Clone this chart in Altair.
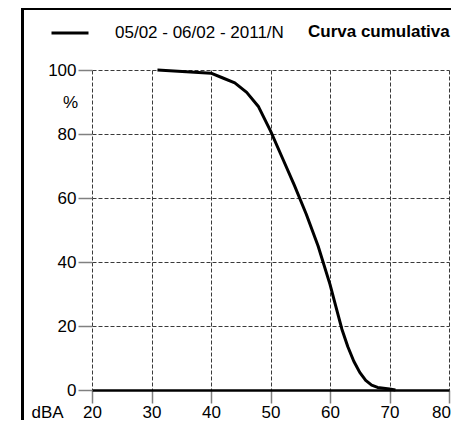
import altair as alt
import pandas as pd

# ---- data ----
dba = [31, 40, 42, 44, 46, 48, 50, 52, 54, 56, 58, 60, 61, 62, 63, 64, 65, 66, 67, 68, 70, 71]
pct = [100, 99, 97.5, 96, 93, 88.5, 81, 72.5, 64, 55, 45, 33, 26, 19, 13.5, 9, 5.5, 3, 1.5, 0.8, 0.3, 0]
series_name = "05/02 - 06/02 - 2011/N"
title_text = "Curva cumulativa"
x_ticks = [20, 30, 40, 50, 60, 70, 80]
y_ticks = [0, 20, 40, 60, 80, 100]

df = pd.DataFrame({"dBA": dba, "pct": pct, "serie": [series_name] * len(dba)})
one = pd.DataFrame({"label": [title_text]})

FONT = "Liberation Sans"
FS = 17

line = alt.Chart(df).mark_line(strokeWidth=3, strokeJoin="round").encode(
    x=alt.X(
        "dBA:Q",
        scale=alt.Scale(domain=[20, 80], nice=False, zero=False),
        axis=alt.Axis(
            values=x_ticks, title="dBA", titleX=-45, titleY=22, titleAlign="center",
            titleBaseline="middle", titleFontWeight="normal", titleFontSize=FS,
            titleFont=FONT, titleColor="black",
            labelFontSize=FS, labelFont=FONT, labelColor="black", labelPadding=1,
            labelFlush=False,
            labelOffset={"condition": {"test": "datum.value == 80", "value": -8}, "value": 0},
            tickColor="#808080", tickWidth=1.5, tickSize=13,
            domainColor="black", domainWidth=2.5,
            grid=True, gridColor="#3a3a3a", gridDash=[4, 2], gridWidth=1,
        ),
    ),
    y=alt.Y(
        "pct:Q",
        scale=alt.Scale(domain=[0, 100], nice=False),
        axis=alt.Axis(
            values=y_ticks, title="%", titleAngle=0, titleX=-22, titleY=32,
            titleAlign="center", titleBaseline="middle", titleFontWeight="normal",
            titleFontSize=FS, titleFont=FONT, titleColor="black",
            labelFontSize=FS, labelFont=FONT, labelColor="black", labelPadding=2,
            tickColor="#808080", tickWidth=1.5, tickSize=14,
            domain=False,
            grid=True, gridColor="#3a3a3a", gridDash=[4, 2], gridWidth=1,
        ),
    ),
    color=alt.Color(
        "serie:N",
        scale=alt.Scale(range=["black"]),
        legend=alt.Legend(
            orient="none", legendX=-42, legendY=-57, title=None,
            symbolType="stroke", symbolSize=1369, symbolStrokeWidth=3,
            symbolStrokeColor="black",
            labelFont=FONT, labelFontSize=FS, labelColor="black", labelOffset=25,
            labelLimit=400, padding=0,
        ),
    ),
)

title_mark = alt.Chart(one).mark_text(
    font=FONT, fontSize=FS, fontWeight="bold", color="black",
    align="left", baseline="middle",
).encode(text="label:N", x=alt.value(216), y=alt.value(-38))

frame_left = alt.Chart(one).mark_rule(color="black", strokeWidth=3).encode(
    x=alt.value(-69.5), y=alt.value(-63), y2=alt.value(360)
)
frame_top = alt.Chart(one).mark_rule(color="black", strokeWidth=3).encode(
    x=alt.value(-71), x2=alt.value(400), y=alt.value(-61.5)
)

chart = alt.layer(frame_left, frame_top, line, title_mark).properties(
    width=357,
    height=320,
    autosize=alt.AutoSizeParams(type="none"),
    padding={"left": 84, "top": 62, "right": 2, "bottom": 30},
).configure_view(strokeWidth=0)

chart.save("out.html", embed_options={"renderer": "svg", "actions": False})
